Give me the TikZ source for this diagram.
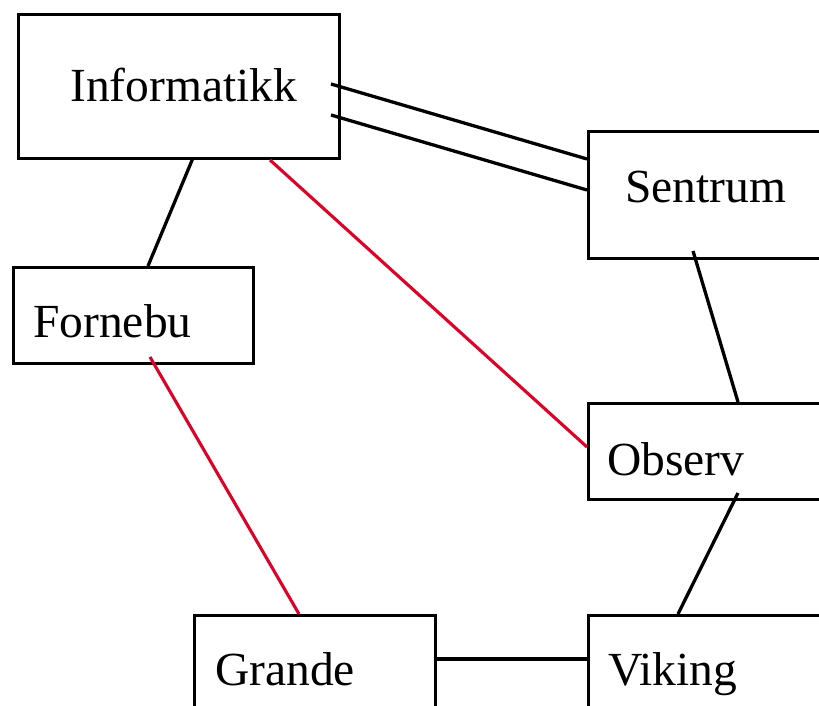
\documentclass[tikz,border=0pt]{standalone}
\usepackage{fontspec}
\setmainfont{Liberation Serif}
\definecolor{linkred}{RGB}{221,0,39}
\tikzset{
  site/.style={draw=black, line width=3.3pt, rectangle, inner sep=0pt, anchor=north west},
  sitename/.style={anchor=base west, inner sep=0pt, font=\fontsize{47.5}{57}\selectfont},
  wire/.style={draw=black, line width=3.3pt},
  redwire/.style={draw=linkred, line width=3.1pt}
}
\begin{document}
\begin{tikzpicture}[x=1pt, y=-1pt]
  \useasboundingbox (0,0) rectangle (819,706);
  \clip (0,0) rectangle (819,706);

  % boxes
  \node[site, minimum width=321pt, minimum height=144pt] (inf) at (17,13) {};
  \node[site, minimum width=260pt, minimum height=127pt] (sen) at (587,130) {};
  \node[site, minimum width=240pt, minimum height=96pt] (forn) at (12,266) {};
  \node[site, minimum width=260pt, minimum height=96pt] (obs) at (587,402) {};
  \node[site, minimum width=241pt, minimum height=130pt] (gra) at (193,614) {};
  \node[site, minimum width=260pt, minimum height=130pt] (vik) at (587,614) {};

  % names
  \node[sitename] (tinf) at (70,102) {Informatikk};
  \node[sitename] (tsen) at (625,202) {Sentrum};
  \node[sitename] (tforn) at (33,337) {Fornebu};
  \node[sitename] (tobs) at (607,475) {Observ};
  \node[sitename] (tgra) at (215,685) {Grande};
  \node[sitename] (tvik) at (608,685) {Viking};

  % links
  \draw[wire] ([shift={(314,71)}]inf.north west) -- ([shift={(0,29)}]sen.north west);
  \draw[wire] ([shift={(314,102)}]inf.north west) -- ([shift={(0,60)}]sen.north west);
  \draw[wire] ([shift={(176,145)}]inf.north west) -- ([shift={(136,0)}]forn.north west);
  \draw[redwire] ([shift={(253,147)}]inf.north west) -- ([shift={(0,45)}]obs.north west);
  \draw[redwire] ([shift={(138,91)}]forn.north west) -- ([shift={(106,0)}]gra.north west);
  \draw[wire] ([shift={(106,121)}]sen.north west) -- ([shift={(151,0)}]obs.north west);
  \draw[wire] ([shift={(151,91)}]obs.north west) -- ([shift={(91,0)}]vik.north west);
  \draw[wire] ([shift={(241,45)}]gra.north west) -- ([shift={(0,45)}]vik.north west);
\end{tikzpicture}
\end{document}
